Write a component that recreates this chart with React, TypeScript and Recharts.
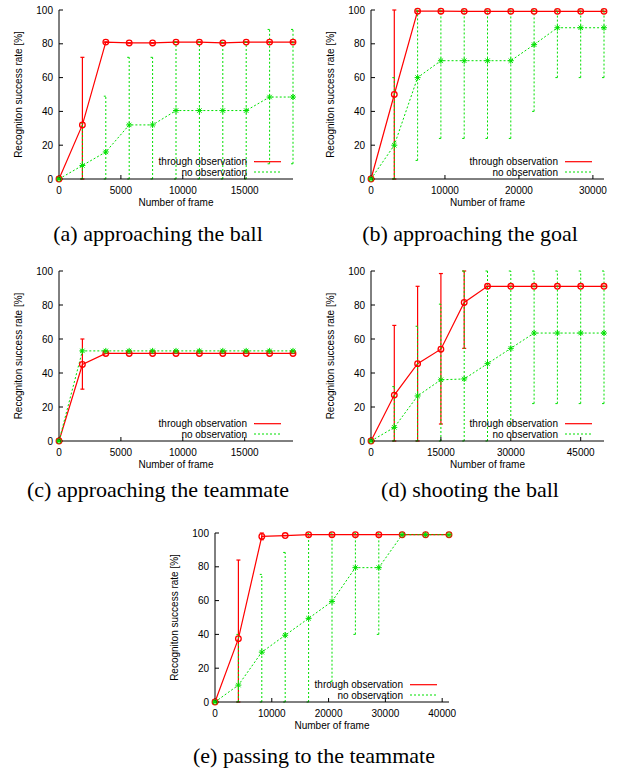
import React from "react";
import { LineChart, Line, XAxis, YAxis, ErrorBar, Legend } from "recharts";

// (a) approaching the ball
const framesA = [0, 1890, 3780, 5670, 7560, 9450, 11340, 13230, 15120, 17010, 18900];
const throughA = [0, 32, 81, 80.5, 80.5, 81, 81, 80.5, 81, 81, 81];
const throughLoA = [0, 0, 81, 80.5, 80.5, 81, 81, 80.5, 81, 81, 81];
const throughHiA = [0, 72, 81, 80.5, 80.5, 81, 81, 80.5, 81, 81, 81];
const noObsA = [0, 8, 16, 32, 32, 40.5, 40.5, 40.5, 40.5, 48.5, 48.5];
const noObsLoA = [0, 0, 0, 0, 0, 0, 0, 0, 0, 9, 9];
const noObsHiA = [0, 33, 49, 72, 72, 81, 81, 81, 81, 88.5, 88.5];

// (b) approaching the goal
const framesB = [0, 3150, 6300, 9450, 12600, 15750, 18900, 22050, 25200, 28350, 31500];
const throughB = [0, 50, 99.3, 99.3, 99.2, 99.2, 99.2, 99.2, 99.2, 99.2, 99.2];
const throughLoB = [0, 0, 99.3, 99.3, 99.2, 99.2, 99.2, 99.2, 99.2, 99.2, 99.2];
const throughHiB = [0, 100, 99.3, 99.3, 99.2, 99.2, 99.2, 99.2, 99.2, 99.2, 99.2];
const noObsB = [0, 20, 60, 70, 70, 70, 70, 79.5, 89.5, 89.5, 89.5];
const noObsLoB = [0, 0, 11, 24, 24, 24, 24, 40, 60, 60, 60];
const noObsHiB = [0, 60, 100, 100, 100, 100, 100, 100, 100, 100, 100];

// (c) approaching the teammate
const framesC = [0, 1890, 3780, 5670, 7560, 9450, 11340, 13230, 15120, 17010, 18900];
const throughC = [0, 45, 51.5, 51.5, 51.5, 51.5, 51.5, 51.5, 51.5, 51.5, 51.5];
const throughLoC = [0, 30.5, 51.5, 51.5, 51.5, 51.5, 51.5, 51.5, 51.5, 51.5, 51.5];
const throughHiC = [0, 60, 51.5, 51.5, 51.5, 51.5, 51.5, 51.5, 51.5, 51.5, 51.5];
const noObsC = [0, 53, 53, 53, 53, 53, 53, 53, 53, 53, 53];
const noObsLoC = [0, 52.5, 52.5, 52.5, 52.5, 52.5, 52.5, 52.5, 52.5, 52.5, 52.5];
const noObsHiC = [0, 53.5, 53.5, 53.5, 53.5, 53.5, 53.5, 53.5, 53.5, 53.5, 53.5];

// (d) shooting the ball
const framesD = [0, 5000, 10000, 15000, 20000, 25000, 30000, 35000, 40000, 45000, 50000];
const throughD = [0, 27, 45.5, 54, 81.5, 91, 91, 91, 91, 91, 91];
const throughLoD = [0, 0, 0, 10, 54.5, 91, 91, 91, 91, 91, 91];
const throughHiD = [0, 68, 91, 98.5, 100, 91, 91, 91, 91, 91, 91];
const noObsD = [0, 8, 26.5, 36, 36.5, 45.5, 54.5, 63.5, 63.5, 63.5, 63.5];
const noObsLoD = [0, 0, 0, 0, 0, 0, 10, 22, 22, 22, 22];
const noObsHiD = [0, 32, 67.5, 80.5, 100, 100, 100, 100, 100, 100, 100];

// (e) passing to the teammate
const framesE = [0, 4120, 8240, 12360, 16480, 20600, 24720, 28840, 32960, 37080, 41200];
const throughE = [0, 37.5, 98, 98.5, 99, 99, 99, 99, 99, 99, 99];
const throughLoE = [0, 0, 96, 98.5, 99, 99, 99, 99, 99, 99, 99];
const throughHiE = [0, 84, 100, 98.5, 99, 99, 99, 99, 99, 99, 99];
const noObsE = [0, 10, 29.5, 39.5, 49.5, 59.5, 79.5, 79.5, 99, 99, 99];
const noObsLoE = [0, 0, 0, 0, 0, 12, 40, 40, 99, 99, 99];
const noObsHiE = [0, 40, 75.5, 88.5, 100, 100, 100, 100, 99, 99, 99];

const yTicks = [0, 20, 40, 60, 80, 100];
const SANS = '"Liberation Sans", Arial, Helvetica, sans-serif';
const SERIF = '"Liberation Serif", "Times New Roman", serif';
const RED = "#ff0000";
const GREEN = "#00e000";

type Panel = {
  caption: string;
  capX: number;
  capY: number;
  left: number;
  top: number;
  right: number;
  bottom: number;
  xMax: number;
  xTicks: number[];
  frames: number[];
  through: number[];
  throughLo: number[];
  throughHi: number[];
  noObs: number[];
  noObsLo: number[];
  noObsHi: number[];
};

const panels: Panel[] = [
  {
    caption: "(a) approaching the ball", capX: 158, capY: 241,
    left: 59, top: 10, right: 293, bottom: 179,
    xMax: 18900, xTicks: [0, 5000, 10000, 15000],
    frames: framesA, through: throughA, throughLo: throughLoA, throughHi: throughHiA,
    noObs: noObsA, noObsLo: noObsLoA, noObsHi: noObsHiA,
  },
  {
    caption: "(b) approaching the goal", capX: 470, capY: 241,
    left: 371, top: 10, right: 604, bottom: 179,
    xMax: 31500, xTicks: [0, 10000, 20000, 30000],
    frames: framesB, through: throughB, throughLo: throughLoB, throughHi: throughHiB,
    noObs: noObsB, noObsLo: noObsLoB, noObsHi: noObsHiB,
  },
  {
    caption: "(c) approaching the teammate", capX: 158, capY: 497,
    left: 59, top: 271, right: 293, bottom: 441,
    xMax: 18900, xTicks: [0, 5000, 10000, 15000],
    frames: framesC, through: throughC, throughLo: throughLoC, throughHi: throughHiC,
    noObs: noObsC, noObsLo: noObsLoC, noObsHi: noObsHiC,
  },
  {
    caption: "(d) shooting the ball", capX: 470, capY: 497,
    left: 371, top: 271, right: 604, bottom: 441,
    xMax: 50000, xTicks: [0, 15000, 30000, 45000],
    frames: framesD, through: throughD, throughLo: throughLoD, throughHi: throughHiD,
    noObs: noObsD, noObsLo: noObsLoD, noObsHi: noObsHiD,
  },
  {
    caption: "(e) passing to the teammate", capX: 314, capY: 763,
    left: 215, top: 533, right: 449, bottom: 702,
    xMax: 41200, xTicks: [0, 10000, 20000, 30000, 40000],
    frames: framesE, through: throughE, throughLo: throughLoE, throughHi: throughHiE,
    noObs: noObsE, noObsLo: noObsLoE, noObsHi: noObsHiE,
  },
];

// chart padding around the plot box
const PAD_L = 59;
const PAD_T = 10;
const PAD_R = 12;
const PAD_B = 40;
const Y_AXIS_W = 40;

const RedDot = (props: any) => {
  const { cx, cy, index } = props;
  if (cx == null || cy == null) return <g key={`r-${index}`} />;
  return <circle key={`r-${index}`} cx={cx} cy={cy} r={2.8} stroke={RED} strokeWidth={1.3} fill="none" />;
};

const GreenDot = (props: any) => {
  const { cx, cy, index } = props;
  if (cx == null || cy == null) return <g key={`g-${index}`} />;
  const s = 3;
  const d = 2.2;
  return (
    <path
      key={`g-${index}`}
      d={`M${cx - s},${cy}L${cx + s},${cy}M${cx},${cy - s}L${cx},${cy + s}M${cx - d},${cy - d}L${cx + d},${cy + d}M${cx - d},${cy + d}L${cx + d},${cy - d}`}
      stroke={GREEN}
      strokeWidth={1}
      fill="none"
    />
  );
};

const KeyBox = () => (
  <svg width={140} height={25} style={{ display: "block", overflow: "visible" }}>
    <text x={94} y={7.7} textAnchor="end" dominantBaseline="central" fontSize={10} fontFamily={SANS} fill="#000">
      through observation
    </text>
    <line x1={101} x2={128} y1={7.7} y2={7.7} stroke={RED} strokeWidth={1.2} />
    <text x={94} y={18} textAnchor="end" dominantBaseline="central" fontSize={10} fontFamily={SANS} fill="#000">
      no observation
    </text>
    <line x1={101} x2={128} y1={18} y2={18} stroke={GREEN} strokeWidth={1} strokeDasharray="2 2" />
  </svg>
);

const RatePlot = ({ p }: { p: Panel }) => {
  const plotW = p.right - p.left;
  const plotH = p.bottom - p.top;
  const width = plotW + PAD_L + PAD_R;
  const height = plotH + PAD_T + PAD_B;

  const rows = p.frames.map((f, i) => ({
    frame: f,
    through: p.through[i],
    throughErr: [p.through[i] - p.throughLo[i], p.throughHi[i] - p.through[i]],
    noObs: p.noObs[i],
    noObsErr: [p.noObs[i] - p.noObsLo[i], p.noObsHi[i] - p.noObs[i]],
  }));

  const tickFont = { fontSize: 10, fill: "#000", fontFamily: SANS };
  const black = { stroke: "#000" };

  return (
    <div style={{ position: "absolute", left: p.left - PAD_L, top: p.top - PAD_T }}>
      <LineChart
        width={width}
        height={height}
        data={rows}
        margin={{ top: PAD_T, right: PAD_R, bottom: 10, left: PAD_L - Y_AXIS_W }}
      >
        <XAxis
          xAxisId="b"
          dataKey="frame"
          type="number"
          domain={[0, p.xMax]}
          ticks={p.xTicks}
          interval={0}
          height={30}
          tickSize={-4}
          tickMargin={12}
          tick={tickFont}
          axisLine={black}
          tickLine={black}
          label={() => (
            <text
              x={PAD_L + plotW / 2}
              y={PAD_T + plotH + 23}
              textAnchor="middle"
              dominantBaseline="central"
              fontSize={10}
              fontFamily={SANS}
              fill="#000"
            >
              Number of frame
            </text>
          )}
        />
        <XAxis
          xAxisId="t"
          orientation="top"
          type="number"
          domain={[0, p.xMax]}
          allowDataOverflow
          ticks={p.xTicks}
          interval={0}
          height={0}
          tickSize={-4}
          tick={() => <g />}
          axisLine={black}
          tickLine={black}
        />
        <YAxis
          yAxisId="l"
          type="number"
          domain={[0, 100]}
          ticks={yTicks}
          interval={0}
          width={Y_AXIS_W}
          tickSize={-4}
          tickMargin={10}
          tick={tickFont}
          axisLine={black}
          tickLine={black}
          label={() => {
            const x = PAD_L - 41;
            const y = PAD_T + plotH / 2;
            return (
              <text
                x={x}
                y={y}
                transform={`rotate(-90 ${x} ${y})`}
                textAnchor="middle"
                dominantBaseline="central"
                fontSize={10}
                fontFamily={SANS}
                fill="#000"
              >
                Recogniton success rate [%]
              </text>
            );
          }}
        />
        <YAxis
          yAxisId="r"
          orientation="right"
          type="number"
          domain={[0, 100]}
          allowDataOverflow
          ticks={yTicks}
          interval={0}
          width={0}
          tickSize={-4}
          tick={() => <g />}
          axisLine={black}
          tickLine={black}
        />
        <Line
          xAxisId="b"
          yAxisId="l"
          type="linear"
          dataKey="through"
          name="through observation"
          stroke={RED}
          strokeWidth={1.2}
          dot={RedDot}
          activeDot={false}
          isAnimationActive={false}
        >
          <ErrorBar dataKey="throughErr" direction="y" width={2} stroke={RED} strokeWidth={1.2} />
        </Line>
        <Line
          xAxisId="b"
          yAxisId="l"
          type="linear"
          dataKey="noObs"
          name="no observation"
          stroke={GREEN}
          strokeWidth={1}
          strokeDasharray="2 2"
          dot={GreenDot}
          activeDot={false}
          isAnimationActive={false}
        >
          <ErrorBar dataKey="noObsErr" direction="y" width={2} stroke={GREEN} strokeWidth={1} strokeDasharray="2 2" />
        </Line>
        <Legend
          layout="horizontal"
          verticalAlign="middle"
          align="center"
          wrapperStyle={{ left: PAD_L + plotW - 140, top: PAD_T + plotH - 25, width: 140, height: 25 }}
          content={() => <KeyBox />}
        />
      </LineChart>
    </div>
  );
};

const App = () => (
  <div style={{ position: "absolute", left: 0, top: 0, width: 620, height: 774, background: "#fff" }}>
    {panels.map((p) => (
      <React.Fragment key={p.caption}>
        <RatePlot p={p} />
        <div
          style={{
            position: "absolute",
            left: p.capX - 200,
            width: 400,
            top: p.capY - 18.4,
            lineHeight: "22px",
            fontSize: 22,
            fontFamily: SERIF,
            textAlign: "center",
            color: "#000",
            whiteSpace: "nowrap",
          }}
        >
          {p.caption}
        </div>
      </React.Fragment>
    ))}
  </div>
);

export default App;
